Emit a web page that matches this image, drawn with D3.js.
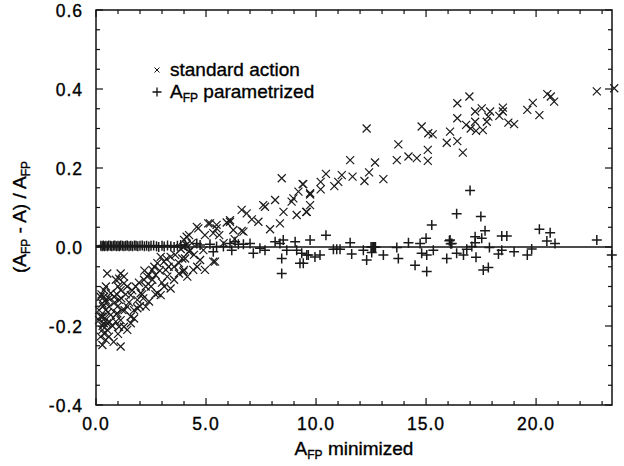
<!DOCTYPE html>
<html><head><meta charset="utf-8">
<script src="https://cdn.jsdelivr.net/npm/d3@7"></script>
<style>body{margin:0;background:#fff}svg text{font-family:"Liberation Sans",Arial,Helvetica,sans-serif;fill:#000;stroke:#000;stroke-width:0.35px}</style>
</head><body><svg id="c" width="624" height="466"></svg>
<script>
const xTicks = [0, 5, 10, 15, 20];
const xTickLabels = ["0.0", "5.0", "10.0", "15.0", "20.0"];
const yTicks = [-0.4, -0.2, 0.0, 0.2, 0.4, 0.6];
const yTickLabels = ["-0.4", "-0.2", "0.0", "0.2", "0.4", "0.6"];
const seriesNames = ["standard action", "parametrized"];

// standard action (x marks)
const stdPts = [
[0.51,-0.067],[1.12,-0.067],[0.90,-0.083],[1.27,-0.092],[1.12,-0.109],[0.36,-0.109],[0.21,-0.126],[0.29,-0.143],[0.44,-0.160],[0.21,-0.176],[0.36,-0.193],[0.29,-0.210],[0.44,-0.235],[0.29,-0.248],[1.12,-0.252],[1.05,-0.134],[0.97,-0.168],[1.12,-0.185],[1.27,-0.202],[1.58,-0.176],[1.73,-0.160],[1.42,-0.151],[1.88,-0.134],[2.03,-0.117],[2.26,-0.100],[2.33,-0.075],[2.18,-0.083],[2.56,-0.058],[2.79,-0.041],[2.94,-0.025],[3.09,-0.037],[3.39,-0.025],[3.55,-0.050],[3.77,-0.041],[3.92,-0.029],[4.23,-0.012],[4.45,-0.020],[4.60,-0.050],[3.39,-0.105],[2.94,-0.122],[2.79,-0.117],[2.41,-0.138],[2.26,-0.151],[1.88,-0.155],[1.73,-0.181],[1.58,-0.193],[1.42,-0.210],[0.67,-0.117],[0.59,-0.151],[0.67,-0.172],[0.51,-0.193],[0.51,-0.210],[0.59,-0.227],[0.14,-0.160],[0.14,-0.185],[0.21,-0.227],[3.55,-0.083],[3.77,-0.067],[4.00,-0.058],[4.15,-0.075],[2.56,-0.083],[2.71,-0.071],[3.17,-0.058],[3.24,-0.075],[1.27,-0.075],[1.42,-0.100],[1.58,-0.122],[0.82,-0.126],[0.97,-0.151],[1.20,-0.160],[0.90,-0.189],[1.05,-0.202],[0.36,-0.126],[0.44,-0.134],[0.29,-0.176],
[0.25,-0.12],[0.32,-0.15],[0.40,-0.18],[0.48,-0.14],[0.55,-0.165],[0.62,-0.19],[0.30,-0.20],[0.38,-0.22],[0.45,-0.10],[0.58,-0.13],[0.95,-0.12],[1.00,-0.10],[0.85,-0.14],[0.92,-0.17],[1.05,-0.08],[1.15,-0.13],[1.30,-0.16],[1.35,-0.12],[1.50,-0.14],[1.65,-0.11],[1.80,-0.10],[1.95,-0.09],[2.10,-0.12],[2.20,-0.06],[2.40,-0.07],[2.50,-0.10],[2.65,-0.05],[2.90,-0.06],[3.00,-0.09],[3.20,-0.03],[3.30,-0.05],[3.60,-0.02],[3.85,-0.005],[4.10,0.005],[4.35,0.01],[2.00,-0.15],[2.15,-0.13],[3.10,-0.10],[2.70,-0.12],[1.00,-0.22],[0.75,-0.20],[0.80,-0.24],
[4.23,0.030],[4.00,0.018],[4.12,0.026],[3.97,0.0],[4.27,-0.008],[4.88,-0.008],[4.73,-0.033],[5.33,-0.037],[4.05,-0.029],[4.42,-0.058],[3.97,-0.062],[4.95,-0.058],[5.41,-0.037],[4.65,0.047],[5.33,0.035],[5.18,0.060],[5.48,0.047],[5.94,0.062],[6.09,0.068],[6.24,0.043],[6.62,0.041],[6.62,0.094],[6.85,0.085],[7.08,0.070],[7.38,0.064],[7.68,0.102],[7.91,0.045],[8.36,0.060],[8.14,0.119],[8.52,0.089],[8.89,0.115],[9.12,0.081],[9.58,0.089],[9.20,0.140],[9.39,0.159],[9.73,0.136],[8.44,0.174],[8.97,0.123],[4.58,0.051],[4.95,0.030],[5.10,0.060],[6.70,0.039],[7.60,0.106],[5.48,0.056],[6.09,0.064],[6.30,0.020],[5.80,0.010],[5.60,0.030],
[12.30,0.300],[13.74,0.260],[11.55,0.220],[12.68,0.214],[13.67,0.220],[14.20,0.229],[14.58,0.225],[15.08,0.246],[15.08,0.218],[14.80,0.305],[15.10,0.288],[15.30,0.285],[11.17,0.182],[11.66,0.178],[12.20,0.167],[12.41,0.189],[13.06,0.172],[10.45,0.185],[10.21,0.165],[10.83,0.154],[11.01,0.165],[10.21,0.146],[9.42,0.159],[9.73,0.133],[9.73,0.106],[9.55,0.089],
[16.42,0.364],[16.97,0.381],[16.42,0.326],[16.09,0.292],[15.94,0.264],[16.42,0.268],[16.67,0.239],[16.82,0.309],[17.03,0.300],[17.23,0.343],[17.23,0.317],[17.27,0.294],[17.53,0.351],[17.58,0.296],[17.76,0.317],[17.83,0.330],[17.91,0.343],[18.33,0.332],[18.49,0.353],[18.49,0.343],[18.74,0.315],[19.00,0.311],[19.60,0.347],[19.85,0.365],[20.15,0.334],[20.51,0.387],[20.67,0.381],[20.82,0.368],[22.76,0.394],[23.55,0.402]
];

// A_FP parametrized (+ marks)
const fpPts = [
[0.22,0.003],[0.28,0.002],[0.33,0.004],[0.38,0.002],[0.45,0.003],[0.52,0.002],[0.58,0.004],[0.66,0.003],[0.72,0.002],[0.80,0.003],[0.86,0.004],[0.93,0.002],[1.00,0.003],[1.06,0.002],[1.12,0.004],[1.20,0.003],[1.27,0.002],[1.35,0.003],[1.42,0.004],[1.50,0.002],[1.58,0.003],[1.66,0.002],[1.75,0.004],[1.82,0.003],[1.90,0.002],[2.00,0.003],[2.10,0.004],[2.20,0.002],[2.30,0.003],[2.40,0.001],[2.50,0.003],[2.62,0.004],[2.75,0.002],[2.85,0.0],[3.00,0.003],[3.10,0.001],[3.25,0.004],[3.40,0.002],[3.55,0.0],[3.70,0.003],[3.85,0.005],[4.05,0.005],
[4.58,0.009],[4.73,0.005],[5.18,0.007],[5.48,0.001],[5.33,-0.012],[5.79,0.001],[6.09,0.009],[6.17,-0.008],[6.32,0.013],[6.47,0.007],[6.70,0.007],[7.00,0.009],[7.15,-0.016],[7.45,-0.003],[7.68,-0.008],[8.14,0.013],[8.36,0.009],[8.51,0.018],[8.67,-0.008],[8.44,-0.029],[9.05,0.013],[9.12,-0.008],[9.27,-0.041],[9.73,0.018],[9.58,-0.020],[9.95,-0.025],[8.44,-0.067],
[10.45,0.030],[9.35,-0.016],[9.65,-0.020],[9.42,-0.041],[10.18,-0.020],[10.79,-0.006],[10.94,-0.006],[11.09,-0.006],[11.55,0.011],[11.62,-0.018],[12.15,-0.008],[12.30,-0.033],[12.53,-0.014],[13.06,-0.020],[12.50,0.0],[12.55,0.0],[12.60,0.0],[12.65,0.0],[12.70,0.0],[13.67,-0.001],[13.74,-0.029],[14.20,0.011],[14.50,-0.046],[14.73,0.009],[14.80,-0.016],[15.00,0.022],[15.03,-0.020],[15.26,0.056],[15.33,-0.008],[15.03,-0.062],[15.94,-0.029],[16.09,0.018],[16.17,0.009],[16.39,-0.016],
[17.00,0.143],[16.39,0.084],[17.49,0.077],[17.68,0.041],[17.53,0.022],[17.23,0.026],[16.06,0.016],[16.12,0.008],[16.70,-0.020],[16.85,-0.006],[17.08,0.001],[17.23,0.011],[17.27,-0.026],[17.88,-0.001],[17.60,-0.058],[17.83,-0.052],[18.29,-0.018],[18.44,-0.008],[18.44,0.028],[18.67,0.028],[19.00,-0.012],[19.60,-0.020],[19.80,-0.005],[20.15,0.045],[20.64,0.036],[20.49,0.015],[20.86,0.009],[22.76,0.018],[23.44,-0.020]
];

const svg = d3.select("#c");
const L = 96, R = 612, T = 10, B = 405;
const x = d3.scaleLinear().domain([0, 23.45]).range([L, R]);
const y = d3.scaleLinear().domain([-0.4, 0.6]).range([B, T]);
const ink = "#111";

// ticks (inward) on all four sides
const xMinor = d3.range(0, 24, 1), yMinor = d3.range(-0.4, 0.6001, 0.05);
function tickLen(v, step) { return Math.abs(v / step - Math.round(v / step)) < 1e-6 ? 7 : 4; }
const tg = svg.append("g").attr("stroke", ink).attr("stroke-width", 1.2);
xMinor.forEach(v => {
  const len = tickLen(v, 5);
  tg.append("line").attr("x1", x(v)).attr("x2", x(v)).attr("y1", B).attr("y2", B - len);
  tg.append("line").attr("x1", x(v)).attr("x2", x(v)).attr("y1", T).attr("y2", T + len);
});
yMinor.forEach(v => {
  const len = tickLen(v, 0.2);
  tg.append("line").attr("y1", y(v)).attr("y2", y(v)).attr("x1", L).attr("x2", L + len);
  tg.append("line").attr("y1", y(v)).attr("y2", y(v)).attr("x1", R).attr("x2", R - len);
});

// frame
svg.append("rect").attr("x", L).attr("y", T).attr("width", R - L).attr("height", B - T)
  .attr("fill", "none").attr("stroke", ink).attr("stroke-width", 1.5);

// zero line
svg.append("line").attr("x1", L).attr("x2", R).attr("y1", y(0)).attr("y2", y(0))
  .attr("stroke", ink).attr("stroke-width", 1.5);

// tick labels
svg.append("g").selectAll("text").data(xTicks).join("text")
  .attr("x", d => x(d)).attr("y", 430).attr("text-anchor", "middle")
  .attr("font-size", 17.5).attr("letter-spacing", 1)
  .text((d, i) => xTickLabels[i]);
svg.append("g").selectAll("text").data(yTicks).join("text")
  .attr("x", 83).attr("y", d => y(d) + 6.5).attr("text-anchor", "end")
  .attr("font-size", 17.5).attr("letter-spacing", 1)
  .text((d, i) => yTickLabels[i]);

// markers
const s1 = 4, s2 = 5;
const crossPath = s => `M${-s},${-s}L${s},${s}M${-s},${s}L${s},${-s}`;
const plusPath = s => `M${-s},0H${s}M0,${-s}V${s}`;
svg.append("g").selectAll("path").data(stdPts).join("path")
  .attr("transform", d => `translate(${x(d[0])},${y(d[1])})`)
  .attr("d", crossPath(s1)).attr("fill", "none").attr("stroke", "#1a1a1a").attr("stroke-width", 1.2);
svg.append("g").selectAll("path").data(fpPts).join("path")
  .attr("transform", d => `translate(${x(d[0])},${y(d[1])})`)
  .attr("d", plusPath(s2)).attr("fill", "none").attr("stroke", "#1a1a1a").attr("stroke-width", 1.5);

// legend
const lg = svg.append("g");
lg.append("path").attr("transform", "translate(157,70)").attr("d", crossPath(2.5))
  .attr("stroke", ink).attr("stroke-width", 1).attr("fill", "none");
lg.append("text").attr("x", 170).attr("y", 76).attr("font-size", 19).text(seriesNames[0]);
lg.append("path").attr("transform", "translate(157,92)").attr("d", plusPath(4.5))
  .attr("stroke", ink).attr("stroke-width", 1.3).attr("fill", "none");
const t2 = lg.append("text").attr("x", 170).attr("y", 98).attr("font-size", 19);
t2.append("tspan").text("A");
t2.append("tspan").attr("font-size", 12).attr("dy", 4).text("FP");
t2.append("tspan").attr("dy", -4).text(" " + seriesNames[1]);

// x axis title
const xt = svg.append("text").attr("x", 354).attr("y", 455).attr("text-anchor", "middle").attr("font-size", 19);
xt.append("tspan").text("A");
xt.append("tspan").attr("font-size", 12).attr("dy", 4).text("FP");
xt.append("tspan").attr("dy", -4).text(" minimized");

// y axis title
const yt = svg.append("text").attr("transform", "translate(26,217) rotate(-90)").attr("text-anchor", "middle").attr("font-size", 19);
yt.append("tspan").text("(A");
yt.append("tspan").attr("font-size", 12).attr("dy", 4).text("FP");
yt.append("tspan").attr("dy", -4).text(" - A) / A");
yt.append("tspan").attr("font-size", 12).attr("dy", 4).text("FP");
</script></body></html>
